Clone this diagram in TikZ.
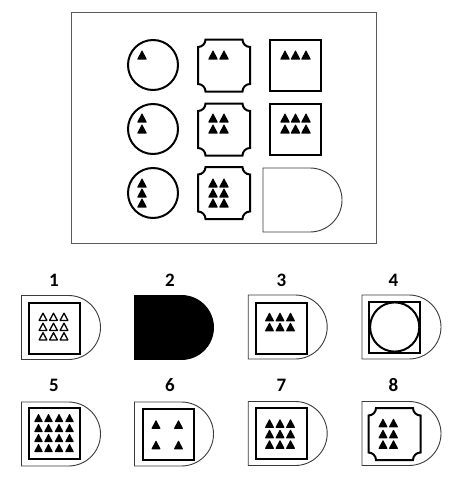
\documentclass[tikz,border=0pt]{standalone}
\usepackage{fontspec}
\setmainfont{Carlito}
\definecolor{framegray}{HTML}{5A5A5A}
\definecolor{domegray}{HTML}{3A3A3A}
\tikzset{
  thickline/.style={draw=black, line width=2pt},
  thinline/.style={draw=domegray, line width=0.9pt},
  numlabel/.style={font=\fontsize{19}{22}\selectfont\bfseries, inner sep=0pt},
  tri/.pic={\fill[black, rounded corners=0.6pt] (-5,4.5) -- (0,-5) -- (5,4.5) -- cycle;},
  htri/.pic={\draw[black, line width=1.3pt, line join=round] (-3.9,3.4) -- (0,-3.8) -- (3.9,3.4) -- cycle;},
  dome/.pic={\path[pic actions] (-39.5,-32) -- (7.5,-32)
      arc[start angle=-90, end angle=90, radius=32] -- (-39.5,32) -- cycle;},
  notchsq/.pic={\path[pic actions] (-18.5,-26) -- (18.5,-26)
      arc[start angle=180, end angle=90, radius=7.5] -- (26,18.5)
      arc[start angle=270, end angle=180, radius=7.5] -- (-18.5,26)
      arc[start angle=0, end angle=-90, radius=7.5] -- (-26,-18.5)
      arc[start angle=90, end angle=0, radius=7.5] -- cycle;},
  innersq/.pic={\path[pic actions] (-25.5,-25.5) rectangle (25.5,25.5);}
}

\begin{document}
\begin{tikzpicture}[x=1pt,y=-1pt]
\useasboundingbox (0,0) rectangle (457,479);

% question panel
\draw[framegray, line width=0.9pt] (71,12) rectangle (376,243);

\draw[thickline] (153,65) circle[radius=25];
\draw[thickline] (153,129) circle[radius=25];
\draw[thickline] (153,193) circle[radius=25];
\pic at (142,55) {tri};
\foreach \y in {118,129} \pic at (142,\y) {tri};
\foreach \y in {183,193,203} \pic at (142,\y) {tri};

\pic[thickline] at (224,65.5) {notchsq};
\pic[thickline] at (224,129.5) {notchsq};
\pic[thickline] at (224,193) {notchsq};
\foreach \x in {213,224} \pic at (\x,55) {tri};
\foreach \x in {213,224} \foreach \y in {118,129} \pic at (\x,\y) {tri};
\foreach \x in {213,224} \foreach \y in {183,193,203} \pic at (\x,\y) {tri};

\pic[thickline] at (295,65.5) {innersq};
\pic[thickline] at (295,129) {innersq};
\foreach \x in {285,295.5,306} \pic at (\x,55) {tri};
\foreach \x in {285,295.5,306} \foreach \y in {118,129} \pic at (\x,\y) {tri};

\pic[thinline] at (302.5,200) {dome};

% answers
\node[numlabel] (lab1) at (54,280) {1};
\node[numlabel] (lab2) at (170,280) {2};
\node[numlabel] (lab3) at (281.5,280) {3};
\node[numlabel] (lab4) at (393.5,280) {4};
\node[numlabel] (lab5) at (54,385) {5};
\node[numlabel] (lab6) at (170,385) {6};
\node[numlabel] (lab7) at (281.5,385) {7};
\node[numlabel] (lab8) at (393.5,385) {8};

\pic[thinline] at (61,327.5) {dome};
\pic[thickline] at (54,328) {innersq};
\foreach \x in {43,53.5,64} \foreach \y in {317,327,336.5} \pic at (\x,\y) {htri};

\pic[draw=black, fill=black, line width=0.9pt] at (174,327.5) {dome};

\pic[thinline] at (287.7,327) {dome};
\pic[thickline] at (281,328) {innersq};
\foreach \x in {269.5,280,290.5} \foreach \y in {317,327} \pic[scale=0.95] at (\x,\y) {tri};

\pic[thinline] at (401.5,327) {dome};
\pic[thickline] at (394.7,327) {innersq};
\draw[thickline] (394.7,327) circle[radius=24.6];

\pic[thinline] at (61,434) {dome};
\pic[thickline] at (54,433.7) {innersq};
\foreach \x in {38.5,48.5,59,69.5} \foreach \y in {418,428,438,448} \pic[scale=0.9] at (\x,\y) {tri};

\pic[thinline] at (174,434) {dome};
\pic[thickline] at (168,434) {innersq};
\foreach \x in {156,178.5} \foreach \y in {424.5,445} \pic[scale=0.95] at (\x,\y) {tri};

\pic[thinline] at (287.7,433.5) {dome};
\pic[thickline] at (281,433.5) {innersq};
\foreach \x in {269.5,280,290.5} \foreach \y in {423.5,434,444.5} \pic[scale=0.95] at (\x,\y) {tri};

\pic[thinline] at (401.5,433.5) {dome};
\pic[thickline] at (394.5,434) {notchsq};
\foreach \x in {383,393.5} \foreach \y in {423,434,444.5} \pic[scale=0.95] at (\x,\y) {tri};
\end{tikzpicture}
\end{document}
